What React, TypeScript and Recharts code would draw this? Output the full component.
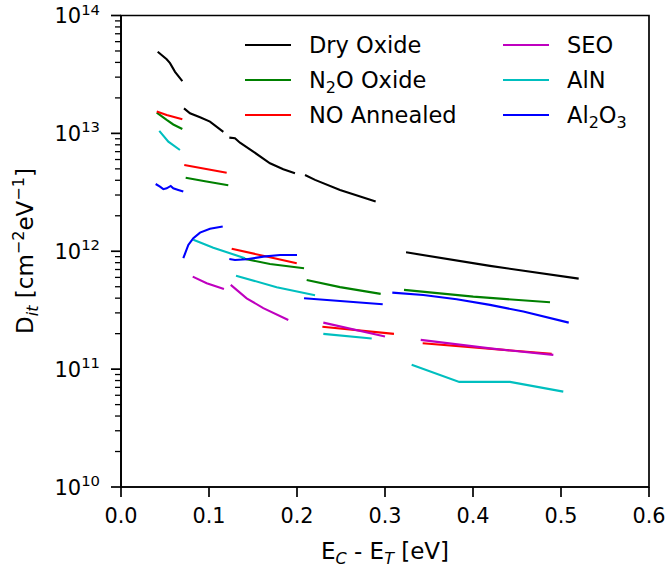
import React from 'react';
import { LineChart, Line, XAxis, YAxis, ReferenceArea, Legend } from 'recharts';

type Pt = [number, number];

const dryOxide: Pt[][] = [
  [[0.0417, 4.93e13], [0.0519, 4.25e13], [0.0557, 3.94e13], [0.0614, 3.33e13], [0.0697, 2.78e13]],
  [[0.0716, 1.63e13], [0.0784, 1.48e13], [0.0898, 1.37e13], [0.1011, 1.26e13], [0.1163, 1.03e13]],
  [[0.1231, 9.2e12], [0.1295, 9.09e12], [0.1352, 8.34e12], [0.1503, 7.0e12], [0.1693, 5.58e12], [0.1844, 4.96e12], [0.1977, 4.59e12]],
  [[0.2091, 4.44e12], [0.2205, 4.03e12], [0.2489, 3.31e12], [0.2894, 2.64e12]],
  [[0.3239, 9.8e11], [0.4193, 7.51e11], [0.5201, 5.86e11]],
];

const n2oOxide: Pt[][] = [
  [[0.0406, 1.5e13], [0.0519, 1.3e13], [0.0594, 1.19e13], [0.0697, 1.09e13]],
  [[0.0735, 4.21e12], [0.0955, 3.93e12], [0.1219, 3.63e12]],
  [[0.1372, 8.73e11], [0.1693, 7.8e11], [0.208, 7.18e11]],
  [[0.211, 5.71e11], [0.2489, 4.96e11], [0.2951, 4.35e11]],
  [[0.3216, 4.7e11], [0.4003, 4.12e11], [0.4875, 3.69e11]],
];

const noAnnealed: Pt[][] = [
  [[0.0406, 1.53e13], [0.0519, 1.43e13], [0.0697, 1.32e13]],
  [[0.0719, 5.4e12], [0.1201, 4.64e12]],
  [[0.1258, 1.05e12], [0.1997, 7.91e11]],
  [[0.2288, 2.29e11], [0.3102, 1.99e11]],
  [[0.3428, 1.66e11], [0.4894, 1.35e11]],
];

const seo: Pt[][] = [
  [[0.0815, 6.09e11], [0.0974, 5.36e11], [0.117, 4.79e11]],
  [[0.1247, 5.18e11], [0.1428, 3.99e11], [0.1617, 3.29e11], [0.1901, 2.61e11]],
  [[0.2299, 2.48e11], [0.3, 1.89e11]],
  [[0.3406, 1.77e11], [0.4193, 1.5e11], [0.4913, 1.32e11]],
];

const aln: Pt[][] = [
  [[0.0435, 1.05e13], [0.0538, 8.51e12], [0.067, 7.23e12]],
  [[0.0822, 1.25e12], [0.1049, 1.07e12], [0.1409, 8.73e11]],
  [[0.1307, 6.21e11], [0.1769, 4.95e11], [0.2205, 4.24e11]],
  [[0.2299, 1.99e11], [0.2849, 1.82e11]],
  [[0.3303, 1.09e11], [0.3844, 7.79e10], [0.442, 7.79e10], [0.5026, 6.44e10]],
];

const al2o3: Pt[][] = [
  [[0.0394, 3.72e12], [0.0443, 3.53e12], [0.0481, 3.36e12], [0.0519, 3.42e12], [0.0565, 3.58e12], [0.0594, 3.42e12], [0.0651, 3.31e12], [0.0708, 3.21e12]],
  [[0.0708, 8.73e11], [0.0765, 1.13e12], [0.0822, 1.29e12], [0.0898, 1.44e12], [0.1011, 1.55e12], [0.1156, 1.62e12]],
  [[0.1231, 8.6e11], [0.1295, 8.44e11], [0.1428, 8.54e11], [0.1617, 9.0e11], [0.1807, 9.3e11], [0.2, 9.3e11]],
  [[0.208, 3.99e11], [0.2974, 3.55e11]],
  [[0.3083, 4.46e11], [0.3435, 4.26e11], [0.3815, 3.92e11], [0.4193, 3.51e11], [0.4572, 3.08e11], [0.5088, 2.48e11]],
];

const seriesNames = ['Dry Oxide', 'N2O Oxide', 'NO Annealed', 'SEO', 'AlN', 'Al2O3'];
const seriesColors = ['#000000', '#008000', '#ff0000', '#bf00bf', '#00bfbf', '#0000ff'];
const seriesData = [dryOxide, n2oOxide, noAnnealed, seo, aln, al2o3];

const xTicks = [0, 0.1, 0.2, 0.3, 0.4, 0.5, 0.6];
const xTickLabels = ['0.0', '0.1', '0.2', '0.3', '0.4', '0.5', '0.6'];
const yMajor = [1e10, 1e11, 1e12, 1e13, 1e14];
const yExponents = ['10', '11', '12', '13', '14'];
const minorMultipliers = [2, 3, 4, 5, 6, 7, 8, 9];
const yMinor = yMajor.slice(0, 4).flatMap((d) => minorMultipliers.map((m) => m * d));
const yTicks = [...yMajor, ...yMinor].sort((a, b) => a - b);

const FONT = '"DejaVu Sans", sans-serif';

const XTick = (props: any) => {
  const { x, y, payload } = props;
  const i = xTicks.findIndex((v) => Math.abs(v - payload.value) < 1e-9);
  return (
    <g>
      <line x1={x} x2={x} y1={y} y2={y + 10} stroke="#000" strokeWidth={1.7} />
      <text x={x} y={y + 36} textAnchor="middle" fontSize={20.8} fontFamily={FONT} fill="#000">
        {i >= 0 ? xTickLabels[i] : ''}
      </text>
    </g>
  );
};

const YTick = (props: any) => {
  const { x, y, payload } = props;
  const mi = yMajor.findIndex((v) => Math.abs(v - payload.value) / v < 1e-6);
  const major = mi >= 0;
  return (
    <g>
      <line x1={x - (major ? 10 : 6)} x2={x} y1={y} y2={y} stroke="#000" strokeWidth={major ? 1.7 : 1.3} />
      {major && (
        <text x={x - 21} y={y + 7.5} textAnchor="end" fontSize={21} fontFamily={FONT} fill="#000">
          10
          <tspan dy={-8.5} fontSize={14.8}>{yExponents[mi]}</tspan>
        </text>
      )}
    </g>
  );
};

const withSubscripts = (s: string) =>
  s.split(/(\d)/).map((part, i) =>
    /\d/.test(part) ? (
      <span key={i} style={{ fontSize: '16px', position: 'relative', top: '5px', lineHeight: 0 }}>
        {part}
      </span>
    ) : (
      <span key={i}>{part}</span>
    )
  );

const LegendContent = () => {
  const rows = [17, 52, 86.5];
  const cols = [0, 258];
  return (
    <div style={{ position: 'relative', width: 420, height: 110, fontFamily: FONT, fontSize: 22.5, color: '#000' }}>
      {seriesNames.map((name, i) => {
        const col = cols[Math.floor(i / 3)];
        const row = rows[i % 3];
        return (
          <div key={name} style={{ position: 'absolute', left: col, top: row - 17, height: 34, lineHeight: '34px', whiteSpace: 'nowrap' }}>
            <div style={{ position: 'absolute', left: 0, top: 16, width: 46, height: 2.1, background: seriesColors[i] }} />
            <div style={{ position: 'absolute', left: 64, top: 0 }}>{withSubscripts(name)}</div>
          </div>
        );
      })}
    </div>
  );
};

const XLabel = () => (
  <text x={385} y={559} textAnchor="middle" fontSize={23} fontFamily={FONT} fill="#000">
    E
    <tspan dy={4.5} fontSize={16} fontStyle="italic">C</tspan>
    <tspan dy={-4.5}> - E</tspan>
    <tspan dy={4.5} fontSize={16} fontStyle="italic">T</tspan>
    <tspan dy={-4.5}> [eV]</tspan>
  </text>
);

const YLabel = () => (
  <text x={33.3} y={251} transform="rotate(-90 33.3 251)" textAnchor="middle" fontSize={23} fontFamily={FONT} fill="#000">
    D
    <tspan dy={4.5} fontSize={16} fontStyle="italic">it</tspan>
    <tspan dy={-4.5}> [cm</tspan>
    <tspan dy={-9} fontSize={16}>−2</tspan>
    <tspan dy={9}>eV</tspan>
    <tspan dy={-9} fontSize={16}>−1</tspan>
    <tspan dy={9}>]</tspan>
  </text>
);

const frameLine = { stroke: '#000', strokeWidth: 1.7 };

export default function App() {
  const lines: React.ReactNode[] = [];
  seriesData.forEach((segs, si) => {
    segs.forEach((seg, gi) => {
      lines.push(
        <Line
          key={`${si}-${gi}`}
          data={seg.map(([x, y]) => ({ x, y }))}
          dataKey="y"
          name={seriesNames[si]}
          type="linear"
          stroke={seriesColors[si]}
          strokeWidth={2.1}
          dot={false}
          activeDot={false}
          legendType="none"
          isAnimationActive={false}
        />
      );
    });
  });

  return (
    <div style={{ position: 'absolute', left: 0, top: 0 }}>
      <LineChart width={666} height={568} margin={{ top: 15.5, right: 17, bottom: 0, left: 0 }}>
        <XAxis
          type="number"
          dataKey="x"
          domain={[0, 0.6]}
          ticks={xTicks}
          interval={0}
          allowDataOverflow
          height={81}
          tickSize={0}
          tickMargin={0}
          tickLine={false}
          tick={XTick}
          axisLine={frameLine}
          label={{ content: () => <XLabel /> }}
        />
        <XAxis
          xAxisId="top"
          orientation="top"
          type="number"
          dataKey="x"
          domain={[0, 0.6]}
          allowDataOverflow
          height={0}
          tick={false}
          tickLine={false}
          axisLine={frameLine}
        />
        <YAxis
          type="number"
          scale="log"
          domain={[1e10, 1e14]}
          ticks={yTicks}
          interval={0}
          allowDataOverflow
          width={121}
          tickSize={0}
          tickMargin={0}
          tickLine={false}
          tick={YTick}
          axisLine={frameLine}
          label={{ content: () => <YLabel /> }}
        />
        <YAxis
          yAxisId="right"
          orientation="right"
          type="number"
          scale="log"
          domain={[1e10, 1e14]}
          allowDataOverflow
          width={0}
          tick={false}
          tickLine={false}
          axisLine={frameLine}
        />
        <ReferenceArea x1={0} x2={0.6} y1={1e10} y2={1e14} fill="none" stroke="#000" strokeWidth={1.7} ifOverflow="visible" />
        {lines}
        <Legend
          layout="vertical"
          align="center"
          verticalAlign="middle"
          content={() => <LegendContent />}
          wrapperStyle={{ top: 28, left: 245, width: 420, height: 110 }}
        />
      </LineChart>
    </div>
  );
}
